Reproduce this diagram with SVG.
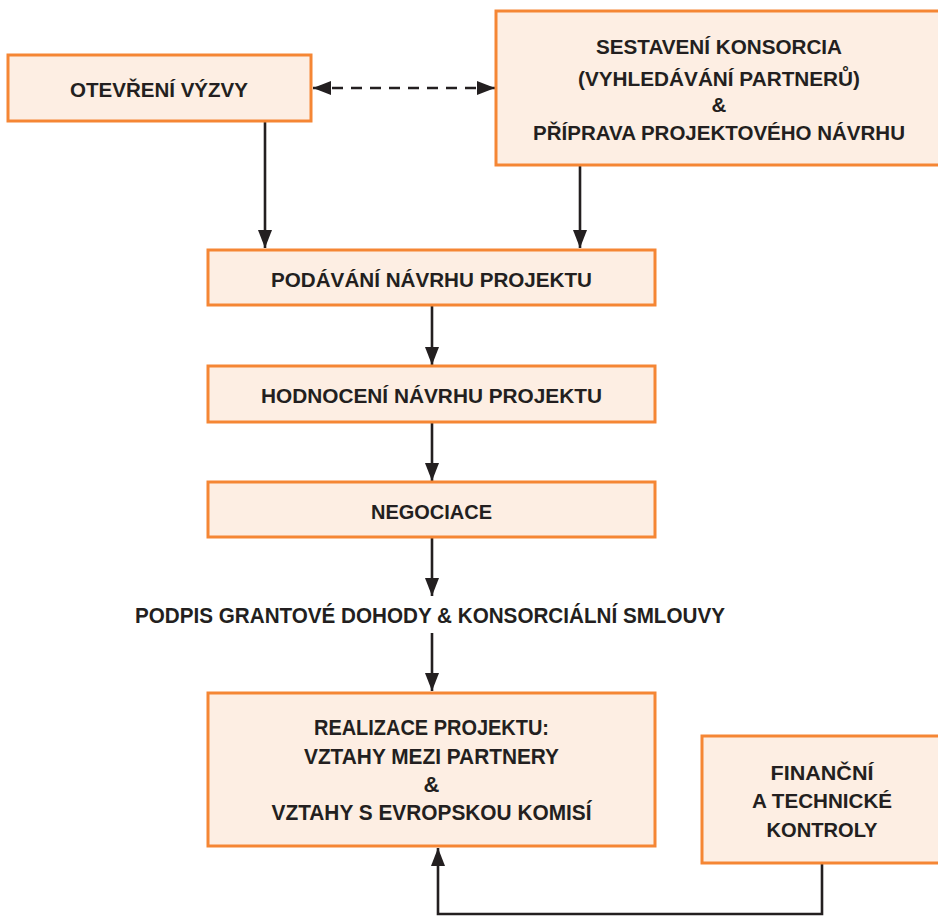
<svg xmlns="http://www.w3.org/2000/svg" width="938" height="916" viewBox="0 0 938 916">
  <style>
    .box { fill: #fdeee3; stroke: #f58634; stroke-width: 3; }
    .lbl { font-family: "Liberation Sans", Arial, sans-serif; font-weight: bold; font-size: 20.5px; fill: #231f20; text-anchor: middle; }
    .tall { font-size: 22px; }
    .wire { fill: none; stroke: #231f20; stroke-width: 2.6; }
    .dash { stroke-dasharray: 11 8; }
  </style>
  <defs>
    <marker id="head" markerUnits="userSpaceOnUse" markerWidth="20" markerHeight="16" refX="18" refY="7" orient="auto">
      <path d="M0,0 L18,7 L0,14 Z" fill="#231f20"/>
    </marker>
    <marker id="tail" markerUnits="userSpaceOnUse" markerWidth="20" markerHeight="16" refX="0" refY="7" orient="auto">
      <path d="M18,0 L0,7 L18,14 Z" fill="#231f20"/>
    </marker>
  </defs>

  <rect width="938" height="916" fill="#ffffff"/>

  <!-- connectors -->
  <g id="connectors">
    <path class="wire dash" d="M313,88 H495" marker-start="url(#tail)" marker-end="url(#head)"/>
    <path class="wire" d="M265,122 V248" marker-end="url(#head)"/>
    <path class="wire" d="M580,166 V248" marker-end="url(#head)"/>
    <path class="wire" d="M432,306 V365" marker-end="url(#head)"/>
    <path class="wire" d="M432,423 V481" marker-end="url(#head)"/>
    <path class="wire" d="M432,538 V596" marker-end="url(#head)"/>
    <path class="wire" d="M432,633 V691" marker-end="url(#head)"/>
    <path class="wire" d="M822,864 V914 H438 V848" marker-end="url(#head)"/>
  </g>

  <!-- call opening -->
  <g id="node-call">
    <rect class="box" x="8" y="55" width="303" height="66"/>
    <text class="lbl" x="159" y="97" textLength="178" lengthAdjust="spacingAndGlyphs">OTEVŘENÍ VÝZVY</text>
  </g>

  <!-- consortium building -->
  <g id="node-consortium">
    <rect class="box" x="496" y="11" width="446" height="154"/>
    <text class="lbl" x="719" y="54" textLength="246" lengthAdjust="spacingAndGlyphs">SESTAVENÍ KONSORCIA</text>
    <text class="lbl" x="719" y="86" textLength="282" lengthAdjust="spacingAndGlyphs">(VYHLEDÁVÁNÍ PARTNERŮ)</text>
    <text class="lbl" x="719" y="112">&amp;</text>
    <text class="lbl" x="719" y="140" textLength="372" lengthAdjust="spacingAndGlyphs">PŘÍPRAVA PROJEKTOVÉHO NÁVRHU</text>
  </g>

  <!-- submission -->
  <g id="node-submission">
    <rect class="box" x="208" y="250" width="447" height="55"/>
    <text class="lbl" x="431.5" y="286.5" textLength="321" lengthAdjust="spacingAndGlyphs">PODÁVÁNÍ NÁVRHU PROJEKTU</text>
  </g>

  <!-- evaluation -->
  <g id="node-evaluation">
    <rect class="box" x="208" y="366" width="447" height="56"/>
    <text class="lbl" x="431.5" y="402.5" textLength="341" lengthAdjust="spacingAndGlyphs">HODNOCENÍ NÁVRHU PROJEKTU</text>
  </g>

  <!-- negotiation -->
  <g id="node-negotiation">
    <rect class="box" x="208" y="482" width="447" height="55"/>
    <text class="lbl" x="431.5" y="518.5" textLength="121" lengthAdjust="spacingAndGlyphs">NEGOCIACE</text>
  </g>

  <!-- signing step -->
  <g id="node-signing">
    <text class="lbl tall" x="430" y="623" textLength="590" lengthAdjust="spacingAndGlyphs">PODPIS GRANTOVÉ DOHODY &amp; KONSORCIÁLNÍ SMLOUVY</text>
  </g>

  <!-- implementation -->
  <g id="node-implementation">
    <rect class="box" x="208" y="693" width="447" height="153"/>
    <text class="lbl tall" x="431.5" y="735" textLength="235" lengthAdjust="spacingAndGlyphs">REALIZACE PROJEKTU:</text>
    <text class="lbl tall" x="431.5" y="763.5" textLength="255" lengthAdjust="spacingAndGlyphs">VZTAHY MEZI PARTNERY</text>
    <text class="lbl tall" x="431.5" y="792">&amp;</text>
    <text class="lbl tall" x="431.5" y="820" textLength="320" lengthAdjust="spacingAndGlyphs">VZTAHY S EVROPSKOU KOMISÍ</text>
  </g>

  <!-- checks -->
  <g id="node-checks">
    <rect class="box" x="702" y="736" width="240" height="127"/>
    <text class="lbl" x="822" y="780" textLength="103" lengthAdjust="spacingAndGlyphs">FINANČNÍ</text>
    <text class="lbl" x="822" y="808" textLength="140" lengthAdjust="spacingAndGlyphs">A TECHNICKÉ</text>
    <text class="lbl" x="822" y="837" textLength="111" lengthAdjust="spacingAndGlyphs">KONTROLY</text>
  </g>
</svg>
